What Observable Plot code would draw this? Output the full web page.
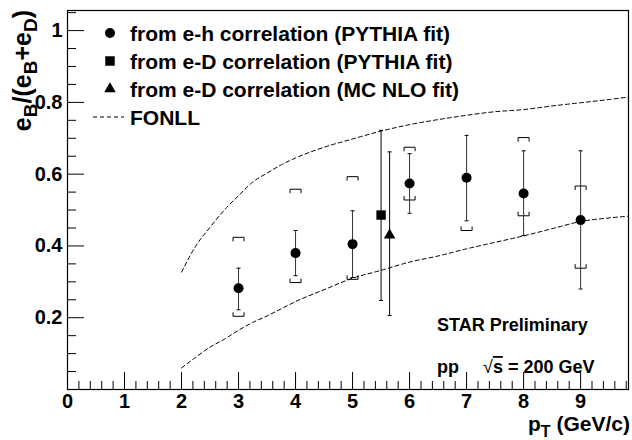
<!DOCTYPE html>
<html>
<head>
<meta charset="utf-8">
<script src="https://cdn.jsdelivr.net/npm/d3@7"></script>
<script src="https://cdn.jsdelivr.net/npm/@observablehq/plot@0.6"></script>
<style>
  html, body { margin: 0; padding: 0; background: #fff; }
  #chart svg { display: block; }
</style>
</head>
<body>
<div id="chart"></div>
<script>
// B-decay electron fraction e_B/(e_B+e_D) versus electron pT

// e-h azimuthal correlation, PYTHIA fit
const ehPt      = [3, 4, 5, 6, 7, 8, 9];
const ehFrac    = [0.282, 0.380, 0.405, 0.574, 0.590, 0.546, 0.472];
const ehStatLo  = [0.222, 0.317, 0.312, 0.491, 0.470, 0.429, 0.280];
const ehStatHi  = [0.338, 0.443, 0.498, 0.657, 0.708, 0.665, 0.665];
const ehSystLo  = [0.204, 0.298, 0.307, 0.528, 0.443, 0.484, 0.338];
const ehSystHi  = [0.424, 0.558, 0.593, 0.675, null, 0.702, 0.567];

// e-D correlation, PYTHIA fit
const edPt     = [5.5];
const edFrac   = [0.486];
const edStatLo = [0.248];
const edStatHi = [0.722];

// e-D correlation, MC NLO fit
const nloPt     = [5.65];
const nloFrac   = [0.430];
const nloStatLo = [0.206];
const nloStatHi = [0.662];

// FONLL uncertainty band edges
const fonllPt   = [2.0, 2.25, 2.5, 2.75, 3.0, 3.25, 3.5, 3.75, 4.0, 4.5, 5.0, 5.5, 6.0, 6.5, 7.0, 7.5, 8.0, 8.5, 9.0, 9.5, 9.84];
const fonllHigh = [0.327, 0.400, 0.452, 0.500, 0.540, 0.578, 0.603, 0.626, 0.645, 0.675, 0.698, 0.720, 0.738, 0.752, 0.764, 0.774, 0.780, 0.790, 0.799, 0.808, 0.815];
const fonllLow  = [0.060, 0.090, 0.118, 0.140, 0.165, 0.187, 0.205, 0.225, 0.245, 0.278, 0.310, 0.332, 0.355, 0.372, 0.392, 0.410, 0.428, 0.448, 0.468, 0.478, 0.483];

// axis ticks
const xTickLabels = [0, 1, 2, 3, 4, 5, 6, 7, 8, 9];
const yTickLabels = [0.2, 0.4, 0.6, 0.8, 1];
const xMinor = d3.range(0, 9.84, 0.2).filter(v => Math.abs(v - Math.round(v)) > 1e-6);
const yMinor = d3.range(0.05, 1.056, 0.05).filter(v => Math.abs(v * 5 - Math.round(v * 5)) > 1e-6);

const W = 632, H = 440;
const mL = 67, mR = 4, mT = 10, mB = 51;
const plotW = W - mL - mR, plotH = H - mT - mB;

const eh = ehPt.map((pt, i) => ({pt, frac: ehFrac[i], lo: ehStatLo[i], hi: ehStatHi[i], sLo: ehSystLo[i], sHi: ehSystHi[i]}));
const ed = edPt.map((pt, i) => ({pt, frac: edFrac[i], lo: edStatLo[i], hi: edStatHi[i]}));
const nlo = nloPt.map((pt, i) => ({pt, frac: nloFrac[i], lo: nloStatLo[i], hi: nloStatHi[i]}));
const fonll = [
  ...fonllPt.map((pt, i) => ({pt, v: fonllHigh[i], edge: "high"})),
  ...fonllPt.map((pt, i) => ({pt, v: fonllLow[i], edge: "low"}))
];

// small path symbols: error-bar caps and systematic brackets
const cap = {draw(c) { c.moveTo(-2, 0); c.lineTo(2, 0); }};
const bracketTop = {draw(c) { c.moveTo(-5.5, 4); c.lineTo(-5.5, 0); c.lineTo(5.5, 0); c.lineTo(5.5, 4); }};
const bracketBottom = {draw(c) { c.moveTo(-5.5, -4); c.lineTo(-5.5, 0); c.lineTo(5.5, 0); c.lineTo(5.5, -4); }};

const font = "'Liberation Sans', Arial, Helvetica, sans-serif";

const chart = Plot.plot({
  width: W, height: H,
  marginLeft: mL, marginRight: mR, marginTop: mT, marginBottom: mB,
  x: {domain: [0, 9.84], axis: null},
  y: {domain: [0, 1.056], axis: null},
  style: {fontFamily: font, background: "#fff"},
  marks: [
    // FONLL band edges
    Plot.line(fonll, {x: "pt", y: "v", z: "edge", stroke: "#000", strokeWidth: 1, strokeDasharray: "4,3", curve: "monotone-x"}),
    // systematic brackets
    Plot.dot(eh.filter(d => d.sHi != null), {x: "pt", y: "sHi", symbol: bracketTop, stroke: "#000", fill: "none", strokeWidth: 1}),
    Plot.dot(eh, {x: "pt", y: "sLo", symbol: bracketBottom, stroke: "#000", fill: "none", strokeWidth: 1}),
    // statistical error bars
    Plot.ruleX(eh, {x: "pt", y1: "lo", y2: "hi", stroke: "#333", strokeWidth: 1}),
    Plot.ruleX(ed, {x: "pt", y1: "lo", y2: "hi", stroke: "#000", strokeWidth: 1}),
    Plot.ruleX(nlo, {x: "pt", y1: "lo", y2: "hi", stroke: "#000", strokeWidth: 1}),
    Plot.dot([...eh, ...ed, ...nlo], {x: "pt", y: "lo", symbol: cap, stroke: "#000", strokeWidth: 1}),
    Plot.dot([...eh, ...ed, ...nlo], {x: "pt", y: "hi", symbol: cap, stroke: "#000", strokeWidth: 1}),
    // markers
    Plot.dot(eh, {x: "pt", y: "frac", r: 5, fill: "#000", stroke: "none"}),
    Plot.dot(ed, {x: "pt", y: "frac", symbol: "square", r: 5.3, fill: "#000", stroke: "none"}),
    Plot.dot(nlo, {x: "pt", y: "frac", symbol: "triangle", r: 4.3, fill: "#000", stroke: "none"}),
    // inward axis ticks
    Plot.tickX(xTickLabels, {x: d => d, insetTop: plotH - 17, stroke: "#000"}),
    Plot.tickX(xMinor, {x: d => d, insetTop: plotH - 8, stroke: "#000"}),
    Plot.tickY(yTickLabels, {y: d => d, insetRight: plotW - 17, stroke: "#000"}),
    Plot.tickY(yMinor, {y: d => d, insetRight: plotW - 9, stroke: "#000"}),
    // tick labels
    Plot.text(xTickLabels, {x: d => d, text: d => String(d), frameAnchor: "bottom", dy: 18, fontSize: 20, fontWeight: "bold", fill: "#000"}),
    Plot.text(yTickLabels, {y: d => d, text: d => String(d), frameAnchor: "left", dx: -5, textAnchor: "end", fontSize: 20, fontWeight: "bold", fill: "#000"}),
    Plot.frame({stroke: "#000", strokeWidth: 1.2})
  ]
});

document.getElementById("chart").appendChild(chart);

// titles, legend and annotations
const svg = d3.select(chart);
const g = svg.append("g")
  .attr("font-family", font)
  .attr("font-weight", "bold")
  .attr("text-anchor", "start")
  .attr("fill", "#000");

// y-axis title
const yt = g.append("text")
  .attr("transform", "translate(31,10) rotate(-90)")
  .attr("text-anchor", "end").attr("font-size", 25);
yt.append("tspan").text("e");
yt.append("tspan").attr("font-size", 19).attr("dy", 6).text("B");
yt.append("tspan").attr("dy", -6).text("/(e");
yt.append("tspan").attr("font-size", 19).attr("dy", 6).text("B");
yt.append("tspan").attr("dy", -6).text("+e");
yt.append("tspan").attr("font-size", 19).attr("dy", 6).text("D");
yt.append("tspan").attr("dy", -6).text(")");

// x-axis title
const xt = g.append("text")
  .attr("x", 630).attr("y", 431)
  .attr("text-anchor", "end").attr("font-size", 21);
xt.append("tspan").text("p");
xt.append("tspan").attr("font-size", 16).attr("dy", 6).text("T");
xt.append("tspan").attr("dy", -6).text(" (GeV/c)");

// legend
const legendLabels = [
  "from e-h correlation (PYTHIA fit)",
  "from e-D correlation (PYTHIA fit)",
  "from e-D correlation (MC NLO fit)",
  "FONLL"
];
const legendSymbols = [d3.symbolCircle, d3.symbolSquare, d3.symbolTriangle, null];
const legendSizes = [78, 90, 58, 0];
const rowY = [33, 61, 89, 117];
legendLabels.forEach((label, i) => {
  const y = rowY[i];
  if (legendSymbols[i]) {
    g.append("path")
      .attr("d", d3.symbol(legendSymbols[i], legendSizes[i])())
      .attr("transform", `translate(110,${y})`)
      .attr("fill", "#000");
  } else {
    g.append("line")
      .attr("x1", 93).attr("x2", 124).attr("y1", y).attr("y2", y)
      .attr("stroke", "#000").attr("stroke-width", 1).attr("stroke-dasharray", "4,3");
  }
  g.append("text")
    .attr("x", 130).attr("y", y)
    .attr("dy", "0.36em")
    .attr("font-size", 21)
    .text(label);
});

// annotation
g.append("text").attr("x", 437).attr("y", 331).attr("font-size", 18).text("STAR Preliminary");
g.append("text").attr("x", 437).attr("y", 373).attr("font-size", 18).text("pp");
const rs = g.append("text").attr("x", 483).attr("y", 373).attr("font-size", 18);
rs.append("tspan").attr("font-weight", "normal").text("\u221A");
rs.append("tspan").attr("text-decoration", "overline").text("s");
rs.append("tspan").text(" = 200 GeV");
</script>
</body>
</html>
